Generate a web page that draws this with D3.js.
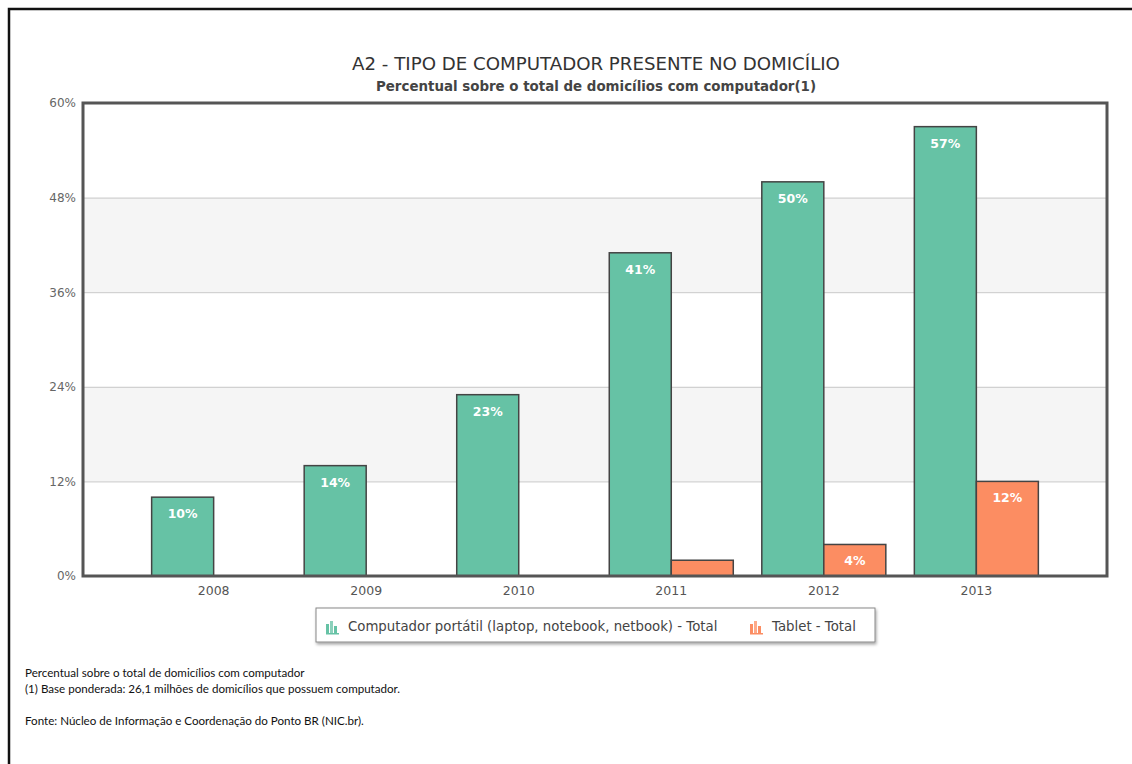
<!DOCTYPE html>
<html>
<head>
<meta charset="utf-8">
<script src="https://cdn.jsdelivr.net/npm/d3@7"></script>
<style>
  html, body { margin: 0; padding: 0; background: #fff; }
  svg { display: block; }
</style>
</head>
<body>
<div id="chart"></div>
<script>
// chart data
const years = ['2008', '2009', '2010', '2011', '2012', '2013'];
const portatil = [10, 14, 23, 41, 50, 57];
const tablet = [0, 0, 0, 2, 4, 12];
const seriesNames = ['Computador portátil (laptop, notebook, netbook) - Total', 'Tablet - Total'];
const yTicks = [0, 12, 24, 36, 48, 60];
const notes = [
  'Percentual sobre o total de domicílios com computador',
  '(1) Base ponderada: 26,1 milhões de domicílios que possuem computador.',
  '',
  'Fonte: Núcleo de Informação e Coordenação do Ponto BR (NIC.br).'
];

const width = 1132, height = 764;
const colors = ['#66c2a5', '#fc8d62'];
const font = 'DejaVu Sans, Verdana, sans-serif';
const plot = { left: 83, top: 103, right: 1107, bottom: 576 };

const svg = d3.select('#chart').append('svg')
  .attr('width', width)
  .attr('height', height);

// outer frame (only top and left visible)
svg.append('path')
  .attr('d', `M9,${height} V9 H${width}`)
  .attr('fill', 'none')
  .attr('stroke', '#111')
  .attr('stroke-width', 2.5);

// titles
svg.append('text')
  .attr('x', 596).attr('y', 70)
  .attr('text-anchor', 'middle')
  .style('font-family', font)
  .style('font-size', '18.2px')
  .attr('fill', '#333')
  .text('A2 - TIPO DE COMPUTADOR PRESENTE NO DOMICÍLIO');

svg.append('text')
  .attr('x', 596).attr('y', 91)
  .attr('text-anchor', 'middle')
  .style('font-family', font)
  .style('font-size', '13.4px')
  .style('font-weight', 'bold')
  .attr('fill', '#444')
  .text('Percentual sobre o total de domicílios com computador(1)');

// scales
const x = d3.scaleBand()
  .domain(years)
  .range([plot.left, plot.right])
  .paddingInner(0.187)
  .paddingOuter(0.45);

const xSub = d3.scaleBand()
  .domain([0, 1])
  .range([0, x.bandwidth()]);

const y = d3.scaleLinear()
  .domain([0, 60])
  .range([plot.bottom, plot.top]);

// alternating bands
const bands = d3.pairs(yTicks).filter((d, i) => i % 2 === 1);
svg.append('g')
  .selectAll('rect')
  .data(bands)
  .enter()
  .append('rect')
  .attr('x', plot.left)
  .attr('width', plot.right - plot.left)
  .attr('y', d => y(d[1]))
  .attr('height', d => y(d[0]) - y(d[1]))
  .attr('fill', '#f5f5f5');

// grid lines
svg.append('g')
  .selectAll('line')
  .data(yTicks.slice(1, -1))
  .enter()
  .append('line')
  .attr('x1', plot.left)
  .attr('x2', plot.right)
  .attr('y1', d => y(d) + 0.5)
  .attr('y2', d => y(d) + 0.5)
  .attr('stroke', '#c8c8c8')
  .attr('stroke-width', 1);

// y axis labels
const yAxis = d3.axisLeft(y)
  .tickValues(yTicks)
  .tickSize(0)
  .tickPadding(7)
  .tickFormat(d => d + '%');

svg.append('g')
  .attr('transform', `translate(${plot.left},0)`)
  .call(yAxis)
  .call(g => g.select('.domain').remove())
  .selectAll('text')
  .style('font-family', font)
  .style('font-size', '12px')
  .attr('fill', '#666');

// bars
const groups = svg.append('g')
  .selectAll('g')
  .data(years)
  .enter()
  .append('g')
  .attr('transform', d => `translate(${x(d)},0)`);

const barData = (year, i) => [
  { s: 0, v: portatil[i] },
  { s: 1, v: tablet[i] }
].filter(d => d.v > 0);

groups.selectAll('rect')
  .data(barData)
  .enter()
  .append('rect')
  .attr('x', d => xSub(d.s))
  .attr('width', xSub.bandwidth())
  .attr('y', d => y(d.v))
  .attr('height', d => y(0) - y(d.v))
  .attr('fill', d => colors[d.s])
  .attr('stroke', '#444')
  .attr('stroke-width', 1.5);

// labels inside the bars
groups.selectAll('text')
  .data((d, i) => barData(d, i).filter(b => y(0) - y(b.v) > 25))
  .enter()
  .append('text')
  .attr('x', d => xSub(d.s) + xSub.bandwidth() / 2)
  .attr('y', d => y(d.v) + 21)
  .attr('text-anchor', 'middle')
  .style('font-family', font)
  .style('font-size', '12.5px')
  .style('font-weight', 'bold')
  .attr('fill', '#fff')
  .text(d => d.v + '%');

// plot frame
svg.append('rect')
  .attr('x', plot.left)
  .attr('y', plot.top)
  .attr('width', plot.right - plot.left)
  .attr('height', plot.bottom - plot.top)
  .attr('fill', 'none')
  .attr('stroke', '#555')
  .attr('stroke-width', 3);

// x axis labels
const xAxis = d3.axisBottom(x).tickSize(0).tickPadding(10);
svg.append('g')
  .attr('transform', `translate(0,${plot.bottom})`)
  .call(xAxis)
  .call(g => g.select('.domain').remove())
  .selectAll('text')
  .style('font-family', font)
  .style('font-size', '12.5px')
  .attr('fill', '#555');

// legend
const legend = svg.append('g').attr('transform', 'translate(316,608)');

const defs = svg.append('defs');
const shadow = defs.append('filter').attr('id', 'shadow')
  .attr('x', '-5%').attr('y', '-20%').attr('width', '110%').attr('height', '150%');
shadow.append('feDropShadow')
  .attr('dx', 1).attr('dy', 2).attr('stdDeviation', 1.5)
  .attr('flood-color', '#000').attr('flood-opacity', 0.35);

legend.append('rect')
  .attr('width', 559)
  .attr('height', 34)
  .attr('fill', '#fff')
  .attr('stroke', '#888')
  .attr('stroke-width', 1)
  .attr('filter', 'url(#shadow)');

const legendX = [10, 434];
const items = legend.selectAll('g.item')
  .data(seriesNames)
  .enter()
  .append('g')
  .attr('class', 'item')
  .attr('transform', (d, i) => `translate(${legendX[i]},10)`);

// small bar chart icon
const iconBars = [[0, 6, 3, 10], [4, 3, 3, 13], [8, 8, 3, 8]];
items.each(function(d, i) {
  d3.select(this).selectAll('rect')
    .data(iconBars)
    .enter()
    .append('rect')
    .attr('x', b => b[0])
    .attr('y', b => b[1])
    .attr('width', b => b[2])
    .attr('height', b => b[3])
    .attr('fill', colors[i])
    .attr('opacity', (b, j) => j === 1 ? 0.75 : 1);
  d3.select(this).append('rect')
    .attr('x', 0).attr('y', 15).attr('width', 13).attr('height', 1.5)
    .attr('fill', colors[i]);
});

items.append('text')
  .attr('x', 22)
  .attr('y', 13)
  .style('font-family', font)
  .style('font-size', '13.3px')
  .attr('fill', '#444')
  .text(d => d);

// footnotes
svg.append('g')
  .selectAll('text')
  .data(notes)
  .enter()
  .append('text')
  .attr('x', 25)
  .attr('y', (d, i) => 677 + i * 16)
  .style('font-family', 'Lato, sans-serif')
  .style('font-size', '11.6px')
  .attr('fill', '#111')
  .text(d => d);
</script>
</body>
</html>
